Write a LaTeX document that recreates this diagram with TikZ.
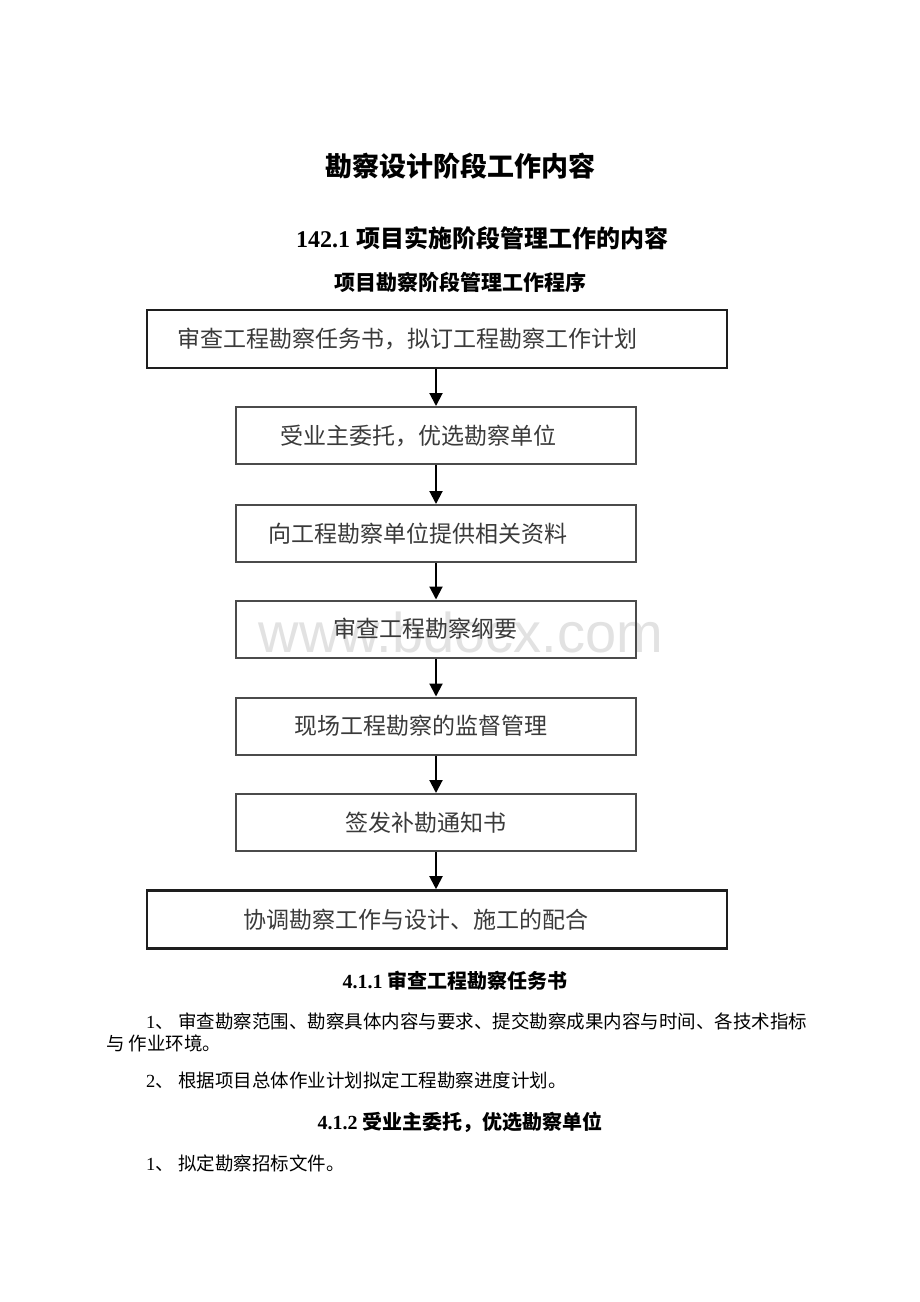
\documentclass[tikz,border=0pt]{standalone}
\usepackage{fontspec}
\setmainfont{Liberation Serif}
\newfontfamily\cjk{Noto Sans CJK SC}
\newfontfamily\wmfont{Liberation Sans}
\usetikzlibrary{arrows.meta}
\definecolor{boxtext}{HTML}{3A3A3A}
\definecolor{boxline}{HTML}{1E1E1E}
\definecolor{wmgray}{HTML}{E2E2E2}
\begin{document}
\begin{tikzpicture}[x=1pt,y=-1pt,
  every node/.style={inner sep=0pt},
  big/.style={draw=boxline, line width=2.6pt, minimum width=580pt, minimum height=58pt,
    font=\cjk\fontsize{23}{23}\selectfont, text=boxtext, align=left, inner ysep=0pt},
  small/.style={draw=boxline!80, line width=2pt, minimum width=400pt, minimum height=57pt,
    font=\cjk\fontsize{23}{23}\selectfont, text=boxtext, align=left, inner ysep=0pt},
  flow/.style={line width=2pt, black, -{Triangle[length=13pt,width=13pt]}},
  head/.style={font=\fontsize{#1}{#1}\selectfont\bfseries, text=black},
  body/.style={font=\fontsize{18.5}{18.5}\selectfont, text=black, anchor=west}
]
\useasboundingbox (0,0) rectangle (920,1302);
\fill[white] (0,0) rectangle (920,1302);

% watermark
\node[text=wmgray, font=\wmfont\fontsize{56}{56}\selectfont] (wm) at (461,632) {www.bdocx.com};

% headings
\node[head=27] (t1) at (460,166) {\cjk 勘察设计阶段工作内容};
\node[head=24] (t2) at (482,238) {142.1 {\cjk 项目实施阶段管理工作的内容}};
\node[head=21] (t3) at (460,282) {\cjk 项目勘察阶段管理工作程序};

% flow boxes
\node[big, inner xsep=30pt, text width=520pt] (b1) at (437,339) {审查工程勘察任务书，拟订工程勘察工作计划};
\node[small, inner xsep=44pt, text width=312pt] (b2) at (436,435.5) {受业主委托，优选勘察单位};
\node[small, inner xsep=32pt, text width=336pt] (b3) at (436,533.5) {向工程勘察单位提供相关资料};
\node[small, inner xsep=97pt, text width=206pt] (b4) at (436,629) {审查工程勘察纲要};
\node[small, inner xsep=58pt, text width=284pt] (b5) at (436,726) {现场工程勘察的监督管理};
\node[small, inner xsep=109pt, text width=182pt] (b6) at (436,822.5) {签发补勘通知书};
\node[big, inner xsep=96pt, text width=388pt] (b7) at (437,919.5) {协调勘察工作与设计、施工的配合};

\draw[flow] (b1.south -| b2.north) -- (b2.north);
\draw[flow] (b2.south) -- (b3.north);
\draw[flow] (b3.south) -- (b4.north);
\draw[flow] (b4.south) -- (b5.north);
\draw[flow] (b5.south) -- (b6.north);
\draw[flow] (b6.south) -- (b7.north -| b6.south);

% text below
\node[head=20] (h1) at (455,981) {4.1.1 {\cjk 审查工程勘察任务书}};
\node[body] (p1) at (146,1021) {1{\cjk 、 审查勘察范围、勘察具体内容与要求、提交勘察成果内容与时间、各技术指标}};
\node[body] (p2) at (106,1043) {\cjk 与 作业环境。};
\node[body] (p3) at (146,1080) {2{\cjk 、 根据项目总体作业计划拟定工程勘察进度计划。}};
\node[head=20] (h2) at (460,1122) {4.1.2 {\cjk 受业主委托，优选勘察单位}};
\node[body] (p4) at (146,1163) {1{\cjk 、 拟定勘察招标文件。}};
\end{tikzpicture}
\end{document}
